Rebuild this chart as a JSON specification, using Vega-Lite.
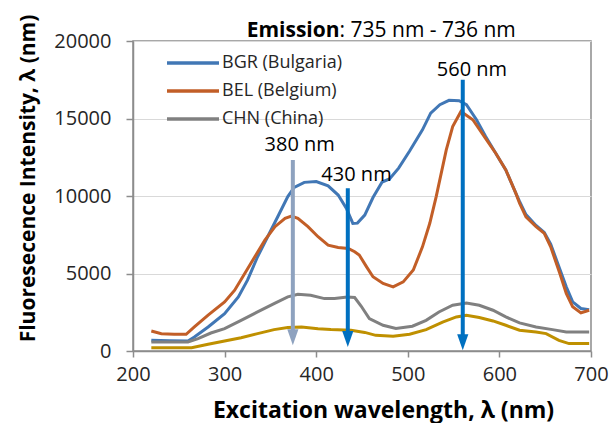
{
  "$schema": "https://vega.github.io/schema/vega-lite/v6.json",
  "width": 458,
  "height": 310,
  "autosize": "none",
  "padding": {"left": 133, "top": 41, "right": 21, "bottom": 72},
  "background": "white",
  "config": {
    "font": "Open Sans",
    "view": {"stroke": "#8C8C8C", "strokeWidth": 1.5}
  },
  "datasets": {
    "spectra": [
      {"series": "BGR (Bulgaria)", "wl": 220, "intensity": 690},
      {"series": "BGR (Bulgaria)", "wl": 240, "intensity": 660},
      {"series": "BGR (Bulgaria)", "wl": 260, "intensity": 650},
      {"series": "BGR (Bulgaria)", "wl": 267, "intensity": 900},
      {"series": "BGR (Bulgaria)", "wl": 282, "intensity": 1550},
      {"series": "BGR (Bulgaria)", "wl": 300, "intensity": 2410},
      {"series": "BGR (Bulgaria)", "wl": 315, "intensity": 3490},
      {"series": "BGR (Bulgaria)", "wl": 325, "intensity": 4570},
      {"series": "BGR (Bulgaria)", "wl": 336, "intensity": 6080},
      {"series": "BGR (Bulgaria)", "wl": 347, "intensity": 7370},
      {"series": "BGR (Bulgaria)", "wl": 358, "intensity": 8660},
      {"series": "BGR (Bulgaria)", "wl": 369, "intensity": 9960},
      {"series": "BGR (Bulgaria)", "wl": 376, "intensity": 10560},
      {"series": "BGR (Bulgaria)", "wl": 387, "intensity": 10880},
      {"series": "BGR (Bulgaria)", "wl": 400, "intensity": 10930},
      {"series": "BGR (Bulgaria)", "wl": 413, "intensity": 10650},
      {"series": "BGR (Bulgaria)", "wl": 424, "intensity": 10060},
      {"series": "BGR (Bulgaria)", "wl": 433, "intensity": 9200},
      {"series": "BGR (Bulgaria)", "wl": 440, "intensity": 8230},
      {"series": "BGR (Bulgaria)", "wl": 445, "intensity": 8250},
      {"series": "BGR (Bulgaria)", "wl": 453, "intensity": 8770},
      {"series": "BGR (Bulgaria)", "wl": 462, "intensity": 9900},
      {"series": "BGR (Bulgaria)", "wl": 472, "intensity": 10900},
      {"series": "BGR (Bulgaria)", "wl": 480, "intensity": 11100},
      {"series": "BGR (Bulgaria)", "wl": 490, "intensity": 11800},
      {"series": "BGR (Bulgaria)", "wl": 502, "intensity": 12900},
      {"series": "BGR (Bulgaria)", "wl": 516, "intensity": 14270},
      {"series": "BGR (Bulgaria)", "wl": 525, "intensity": 15350},
      {"series": "BGR (Bulgaria)", "wl": 535, "intensity": 15890},
      {"series": "BGR (Bulgaria)", "wl": 545, "intensity": 16170},
      {"series": "BGR (Bulgaria)", "wl": 556, "intensity": 16150},
      {"series": "BGR (Bulgaria)", "wl": 564, "intensity": 15890},
      {"series": "BGR (Bulgaria)", "wl": 575, "intensity": 14920},
      {"series": "BGR (Bulgaria)", "wl": 585, "intensity": 13840},
      {"series": "BGR (Bulgaria)", "wl": 596, "intensity": 12760},
      {"series": "BGR (Bulgaria)", "wl": 607, "intensity": 11680},
      {"series": "BGR (Bulgaria)", "wl": 618, "intensity": 10170},
      {"series": "BGR (Bulgaria)", "wl": 622, "intensity": 9650},
      {"series": "BGR (Bulgaria)", "wl": 629, "intensity": 8800},
      {"series": "BGR (Bulgaria)", "wl": 640, "intensity": 8100},
      {"series": "BGR (Bulgaria)", "wl": 649, "intensity": 7650},
      {"series": "BGR (Bulgaria)", "wl": 656, "intensity": 6900},
      {"series": "BGR (Bulgaria)", "wl": 665, "intensity": 5430},
      {"series": "BGR (Bulgaria)", "wl": 673, "intensity": 4140},
      {"series": "BGR (Bulgaria)", "wl": 680, "intensity": 3170},
      {"series": "BGR (Bulgaria)", "wl": 689, "intensity": 2740},
      {"series": "BGR (Bulgaria)", "wl": 698, "intensity": 2660},
      {"series": "BEL (Belgium)", "wl": 220, "intensity": 1290},
      {"series": "BEL (Belgium)", "wl": 231, "intensity": 1120},
      {"series": "BEL (Belgium)", "wl": 245, "intensity": 1080},
      {"series": "BEL (Belgium)", "wl": 258, "intensity": 1080},
      {"series": "BEL (Belgium)", "wl": 267, "intensity": 1550},
      {"series": "BEL (Belgium)", "wl": 282, "intensity": 2310},
      {"series": "BEL (Belgium)", "wl": 300, "intensity": 3170},
      {"series": "BEL (Belgium)", "wl": 311, "intensity": 3920},
      {"series": "BEL (Belgium)", "wl": 322, "intensity": 5000},
      {"series": "BEL (Belgium)", "wl": 333, "intensity": 6080},
      {"series": "BEL (Belgium)", "wl": 344, "intensity": 7150},
      {"series": "BEL (Belgium)", "wl": 355, "intensity": 8020},
      {"series": "BEL (Belgium)", "wl": 366, "intensity": 8560},
      {"series": "BEL (Belgium)", "wl": 373, "intensity": 8710},
      {"series": "BEL (Belgium)", "wl": 380, "intensity": 8560},
      {"series": "BEL (Belgium)", "wl": 391, "intensity": 8020},
      {"series": "BEL (Belgium)", "wl": 402, "intensity": 7370},
      {"series": "BEL (Belgium)", "wl": 413, "intensity": 6830},
      {"series": "BEL (Belgium)", "wl": 424, "intensity": 6680},
      {"series": "BEL (Belgium)", "wl": 435, "intensity": 6620},
      {"series": "BEL (Belgium)", "wl": 442, "intensity": 6400},
      {"series": "BEL (Belgium)", "wl": 447, "intensity": 6190},
      {"series": "BEL (Belgium)", "wl": 455, "intensity": 5430},
      {"series": "BEL (Belgium)", "wl": 462, "intensity": 4790},
      {"series": "BEL (Belgium)", "wl": 473, "intensity": 4360},
      {"series": "BEL (Belgium)", "wl": 484, "intensity": 4140},
      {"series": "BEL (Belgium)", "wl": 495, "intensity": 4460},
      {"series": "BEL (Belgium)", "wl": 506, "intensity": 5220},
      {"series": "BEL (Belgium)", "wl": 516, "intensity": 6720},
      {"series": "BEL (Belgium)", "wl": 524, "intensity": 8240},
      {"series": "BEL (Belgium)", "wl": 531, "intensity": 9960},
      {"series": "BEL (Belgium)", "wl": 542, "intensity": 12980},
      {"series": "BEL (Belgium)", "wl": 549, "intensity": 14480},
      {"series": "BEL (Belgium)", "wl": 558, "intensity": 15450},
      {"series": "BEL (Belgium)", "wl": 571, "intensity": 14920},
      {"series": "BEL (Belgium)", "wl": 586, "intensity": 13620},
      {"series": "BEL (Belgium)", "wl": 596, "intensity": 12760},
      {"series": "BEL (Belgium)", "wl": 607, "intensity": 11680},
      {"series": "BEL (Belgium)", "wl": 618, "intensity": 10170},
      {"series": "BEL (Belgium)", "wl": 622, "intensity": 9530},
      {"series": "BEL (Belgium)", "wl": 629, "intensity": 8660},
      {"series": "BEL (Belgium)", "wl": 640, "intensity": 8020},
      {"series": "BEL (Belgium)", "wl": 649, "intensity": 7590},
      {"series": "BEL (Belgium)", "wl": 656, "intensity": 6720},
      {"series": "BEL (Belgium)", "wl": 666, "intensity": 5000},
      {"series": "BEL (Belgium)", "wl": 673, "intensity": 3710},
      {"series": "BEL (Belgium)", "wl": 680, "intensity": 2850},
      {"series": "BEL (Belgium)", "wl": 689, "intensity": 2460},
      {"series": "BEL (Belgium)", "wl": 698, "intensity": 2630},
      {"series": "CHN (China)", "wl": 220, "intensity": 580},
      {"series": "CHN (China)", "wl": 260, "intensity": 580},
      {"series": "CHN (China)", "wl": 271, "intensity": 800},
      {"series": "CHN (China)", "wl": 285, "intensity": 1160},
      {"series": "CHN (China)", "wl": 300, "intensity": 1440},
      {"series": "CHN (China)", "wl": 318, "intensity": 1980},
      {"series": "CHN (China)", "wl": 336, "intensity": 2520},
      {"series": "CHN (China)", "wl": 354, "intensity": 3060},
      {"series": "CHN (China)", "wl": 369, "intensity": 3490},
      {"series": "CHN (China)", "wl": 380, "intensity": 3660},
      {"series": "CHN (China)", "wl": 394, "intensity": 3600},
      {"series": "CHN (China)", "wl": 409, "intensity": 3380},
      {"series": "CHN (China)", "wl": 420, "intensity": 3380},
      {"series": "CHN (China)", "wl": 434, "intensity": 3490},
      {"series": "CHN (China)", "wl": 442, "intensity": 3450},
      {"series": "CHN (China)", "wl": 449, "intensity": 2900},
      {"series": "CHN (China)", "wl": 458, "intensity": 2090},
      {"series": "CHN (China)", "wl": 473, "intensity": 1660},
      {"series": "CHN (China)", "wl": 487, "intensity": 1450},
      {"series": "CHN (China)", "wl": 505, "intensity": 1600},
      {"series": "CHN (China)", "wl": 520, "intensity": 1980},
      {"series": "CHN (China)", "wl": 534, "intensity": 2520},
      {"series": "CHN (China)", "wl": 549, "intensity": 2950},
      {"series": "CHN (China)", "wl": 564, "intensity": 3100},
      {"series": "CHN (China)", "wl": 578, "intensity": 2950},
      {"series": "CHN (China)", "wl": 593, "intensity": 2630},
      {"series": "CHN (China)", "wl": 607, "intensity": 2200},
      {"series": "CHN (China)", "wl": 622, "intensity": 1810},
      {"series": "CHN (China)", "wl": 640, "intensity": 1550},
      {"series": "CHN (China)", "wl": 658, "intensity": 1380},
      {"series": "CHN (China)", "wl": 673, "intensity": 1230},
      {"series": "CHN (China)", "wl": 698, "intensity": 1230},
      {"series": "Other", "wl": 220, "intensity": 215},
      {"series": "Other", "wl": 264, "intensity": 215},
      {"series": "Other", "wl": 282, "intensity": 430},
      {"series": "Other", "wl": 300, "intensity": 650},
      {"series": "Other", "wl": 318, "intensity": 860},
      {"series": "Other", "wl": 336, "intensity": 1120},
      {"series": "Other", "wl": 354, "intensity": 1380},
      {"series": "Other", "wl": 369, "intensity": 1510},
      {"series": "Other", "wl": 384, "intensity": 1550},
      {"series": "Other", "wl": 402, "intensity": 1440},
      {"series": "Other", "wl": 416, "intensity": 1380},
      {"series": "Other", "wl": 438, "intensity": 1340},
      {"series": "Other", "wl": 453, "intensity": 1200},
      {"series": "Other", "wl": 465, "intensity": 1010},
      {"series": "Other", "wl": 484, "intensity": 950},
      {"series": "Other", "wl": 502, "intensity": 1080},
      {"series": "Other", "wl": 520, "intensity": 1380},
      {"series": "Other", "wl": 538, "intensity": 1870},
      {"series": "Other", "wl": 553, "intensity": 2200},
      {"series": "Other", "wl": 564, "intensity": 2310},
      {"series": "Other", "wl": 578, "intensity": 2160},
      {"series": "Other", "wl": 593, "intensity": 1940},
      {"series": "Other", "wl": 607, "intensity": 1660},
      {"series": "Other", "wl": 622, "intensity": 1340},
      {"series": "Other", "wl": 640, "intensity": 1230},
      {"series": "Other", "wl": 651, "intensity": 1120},
      {"series": "Other", "wl": 665, "intensity": 690},
      {"series": "Other", "wl": 676, "intensity": 480},
      {"series": "Other", "wl": 698, "intensity": 480}
    ],
    "arrows": [
      {"label": "380 nm", "x": 374.5, "top": 12330, "head": 890, "lx": 382, "ly": 13300},
      {"label": "430 nm", "x": 434.5, "top": 10500, "head": 780, "lx": 444, "ly": 11350},
      {"label": "560 nm", "x": 560, "top": 17500, "head": 560, "lx": 570, "ly": 18140}
    ]
  },
  "layer": [
    {
      "data": {"name": "spectra"},
      "mark": {"type": "line", "strokeWidth": 3, "clip": true},
      "encoding": {
        "x": {
          "field": "wl", "type": "quantitative",
          "scale": {"domain": [200, 700], "nice": false, "zero": false},
          "axis": {
            "values": [200, 300, 400, 500, 600, 700],
            "grid": false,
            "domainColor": "#8C8C8C", "domainWidth": 1.5,
            "tickColor": "#8C8C8C", "tickWidth": 1.5, "tickSize": 6,
            "labelFont": "Open Sans", "labelFontSize": 20, "labelColor": "#262626",
            "labelPadding": 7, "labelFlush": false,
            "title": "Excitation wavelength, λ (nm)",
            "titleFont": "Open Sans", "titleFontSize": 23, "titleFontWeight": "bold",
            "titleColor": "#000000",
            "titleX": 250, "titleY": 59, "titleBaseline": "middle", "titleAlign": "center"
          }
        },
        "y": {
          "field": "intensity", "type": "quantitative",
          "scale": {"domain": [0, 20000], "nice": false},
          "axis": {
            "values": [0, 5000, 10000, 15000, 20000],
            "format": "d",
            "grid": true, "gridColor": "#D9D9D9", "gridWidth": 1,
            "domainColor": "#8C8C8C", "domainWidth": 1.5,
            "tickColor": "#8C8C8C", "tickWidth": 1.5, "tickSize": 7,
            "labelFont": "Open Sans", "labelFontSize": 20, "labelColor": "#262626",
            "labelPadding": 15,
            "title": "Fluoresecence Intensity, λ (nm)",
            "titleFont": "Open Sans", "titleFontSize": 21, "titleFontWeight": "bold",
            "titleColor": "#000000",
            "titleX": -105, "titleY": 137, "titleAngle": -90,
            "titleBaseline": "middle", "titleAlign": "center"
          }
        },
        "color": {
          "field": "series", "type": "nominal",
          "scale": {
            "domain": ["BGR (Bulgaria)", "BEL (Belgium)", "CHN (China)", "Other"],
            "range": ["#4177B5", "#C25E27", "#808080", "#BF9000"]
          },
          "legend": {
            "values": ["BGR (Bulgaria)", "BEL (Belgium)", "CHN (China)"],
            "title": null,
            "orient": "none", "legendX": 51, "legendY": 13,
            "padding": 0,
            "symbolType": "M-6.5,0L6.5,0", "symbolSize": 64, "symbolStrokeWidth": 3.5,
            "rowPadding": 10,
            "labelFont": "Open Sans", "labelFontSize": 18, "labelColor": "#262626",
            "labelOffset": 20,
            "encode": {
              "symbols": {
                "update": {
                  "stroke": {"signal": "datum.value == 'BGR (Bulgaria)' ? '#5B9BD5' : datum.value == 'BEL (Belgium)' ? '#ED7D31' : '#A5A5A5'"}
                }
              }
            }
          }
        }
      }
    },
    {
      "data": {"name": "arrows"},
      "mark": {"type": "rule", "strokeWidth": 4},
      "encoding": {
        "x": {"field": "x", "type": "quantitative"},
        "y": {"field": "top", "type": "quantitative"},
        "y2": {"field": "head"},
        "color": {"condition": {"test": "datum.label == '380 nm'", "value": "#8EA2BF"}, "value": "#0070C0"}
      }
    },
    {
      "data": {"name": "arrows"},
      "mark": {"type": "point", "shape": "M-0.7,-1L0.7,-1L0,1Z", "size": 256, "filled": true, "opacity": 1, "strokeWidth": 0},
      "encoding": {
        "x": {"field": "x", "type": "quantitative"},
        "y": {"field": "head", "type": "quantitative"},
        "color": {"condition": {"test": "datum.label == '380 nm'", "value": "#8EA2BF"}, "value": "#0070C0"}
      }
    },
    {
      "data": {"name": "arrows"},
      "mark": {"type": "text", "fontSize": 20, "font": "Open Sans", "color": "#000000", "baseline": "middle", "align": "center"},
      "encoding": {
        "x": {"field": "lx", "type": "quantitative"},
        "y": {"field": "ly", "type": "quantitative"},
        "text": {"field": "label"}
      }
    },
    {
      "data": {"values": [{"text": "Emission", "x": 425.5, "y": 20670}]},
      "mark": {"type": "text", "fontSize": 21, "font": "Open Sans", "fontWeight": "bold", "color": "#000000", "baseline": "middle", "align": "right"},
      "encoding": {
        "x": {"field": "x", "type": "quantitative"},
        "y": {"field": "y", "type": "quantitative"},
        "text": {"field": "text"}
      }
    },
    {
      "data": {"values": [{"text": ": 735 nm - 736 nm", "x": 425.5, "y": 20670}]},
      "mark": {"type": "text", "fontSize": 21, "font": "Open Sans", "color": "#000000", "baseline": "middle", "align": "left"},
      "encoding": {
        "x": {"field": "x", "type": "quantitative"},
        "y": {"field": "y", "type": "quantitative"},
        "text": {"field": "text"}
      }
    }
  ]
}
